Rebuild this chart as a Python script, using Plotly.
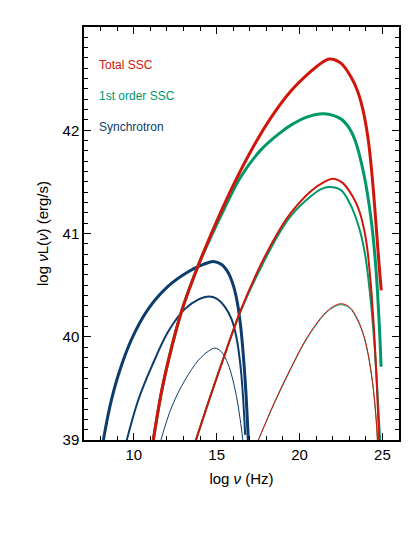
import plotly.graph_objects as go

red = 'rgb(208, 22, 10)'
green = 'rgb(0, 152, 104)'
blue = 'rgb(12, 60, 108)'

# synchrotron, three cases (thick, medium, thin)
sync_x1 = [8.17, 8.57, 9.07, 9.88, 10.88, 12.08, 13.29, 14.2, 14.8, 15.3, 15.7, 16.0, 16.25, 16.45, 16.62, 16.77, 16.91]
sync_y1 = [39.0, 39.33, 39.63, 39.98, 40.27, 40.49, 40.63, 40.70, 40.73, 40.70, 40.62, 40.50, 40.33, 40.10, 39.80, 39.45, 39.0]
sync_x2 = [9.58, 10.28, 11.08, 12.08, 13.09, 13.89, 14.55, 15.0, 15.5, 15.9, 16.2, 16.45, 16.6, 16.72]
sync_y2 = [39.0, 39.39, 39.71, 40.05, 40.27, 40.36, 40.39, 40.37, 40.29, 40.17, 39.99, 39.70, 39.40, 39.05]
sync_x3 = [11.64, 12.29, 13.09, 13.89, 14.5, 14.9, 15.25, 15.6, 15.9, 16.2, 16.42, 16.58]
sync_y3 = [39.0, 39.32, 39.58, 39.77, 39.86, 39.89, 39.86, 39.77, 39.63, 39.42, 39.2, 39.0]

# 1st order SSC
ssc1_x1 = [11.18, 11.69, 12.29, 12.89, 13.89, 14.63, 15.46, 16.46, 17.67, 18.87, 19.48, 20.48, 21.48, 22.49, 23.0, 23.4, 23.9, 24.3, 24.6, 24.8, 24.92]
ssc1_y1 = [39.0, 39.48, 39.90, 40.25, 40.69, 40.96, 41.24, 41.55, 41.81, 41.98, 42.05, 42.13, 42.16, 42.11, 42.02, 41.88, 41.56, 41.16, 40.68, 40.15, 39.71]
ssc1_x2 = [13.75, 14.49, 15.28, 16.46, 17.67, 18.77, 19.48, 20.68, 21.3, 21.8, 22.5, 23.1, 23.6, 23.95, 24.25, 24.5, 24.7, 24.86]
ssc1_y2 = [39.0, 39.36, 39.73, 40.25, 40.67, 41.0, 41.17, 41.36, 41.43, 41.45, 41.42, 41.27, 41.05, 40.8, 40.42, 39.97, 39.47, 39.0]
ssc1_x3 = [17.52, 18.47, 19.48, 20.48, 21.48, 22.0, 22.49, 23.0, 23.5, 23.9, 24.2, 24.45, 24.6, 24.7]
ssc1_y3 = [39.0, 39.35, 39.69, 39.99, 40.21, 40.28, 40.31, 40.28, 40.16, 39.99, 39.77, 39.49, 39.24, 39.0]

# total SSC
tot_x1 = [11.18, 11.69, 12.29, 12.89, 13.89, 14.63, 15.86, 17.07, 18.27, 19.48, 20.68, 21.3, 21.8, 22.49, 23.09, 23.5, 23.85, 24.15, 24.4, 24.6, 24.75, 24.85, 24.93]
tot_y1 = [39.0, 39.48, 39.90, 40.25, 40.69, 40.98, 41.42, 41.80, 42.12, 42.38, 42.57, 42.65, 42.69, 42.65, 42.52, 42.38, 42.18, 41.90, 41.52, 41.12, 40.80, 40.60, 40.45]
tot_x2 = [13.75, 14.49, 15.28, 16.46, 17.67, 18.77, 19.48, 20.68, 21.5, 22.0, 22.6, 23.2, 23.6, 24.0, 24.25, 24.48, 24.66, 24.8]
tot_y2 = [39.0, 39.36, 39.73, 40.26, 40.70, 41.03, 41.20, 41.41, 41.50, 41.53, 41.49, 41.36, 41.22, 40.95, 40.6, 40.1, 39.55, 39.0]
tot_x3 = [17.52, 18.47, 19.48, 20.48, 21.48, 22.0, 22.49, 23.0, 23.5, 23.9, 24.2, 24.45, 24.6, 24.7]
tot_y3 = [39.0, 39.36, 39.70, 40.0, 40.22, 40.29, 40.32, 40.29, 40.17, 40.0, 39.78, 39.5, 39.25, 39.0]

x_ticks = [10, 15, 20, 25]
y_ticks = [39, 40, 41, 42]

fig = go.Figure()

def add_curve(x, y, color, width):
    fig.add_trace(go.Scatter(x=x, y=y, mode='lines',
                             line=dict(color=color, width=width, shape='spline', smoothing=1.0),
                             showlegend=False, hoverinfo='skip'))

add_curve(sync_x1, sync_y1, blue, 3)
add_curve(sync_x2, sync_y2, blue, 2)
add_curve(sync_x3, sync_y3, blue, 1)
add_curve(ssc1_x1, ssc1_y1, green, 3)
add_curve(ssc1_x2, ssc1_y2, green, 2)
add_curve(ssc1_x3, ssc1_y3, green, 1)
add_curve(tot_x1, tot_y1, red, 3)
add_curve(tot_x2, tot_y2, red, 2)
add_curve(tot_x3, tot_y3, red, 1)

labels = [('Total SSC', red, 42.635), ('1st order SSC', green, 42.333), ('Synchrotron', blue, 42.033)]
for txt, col, yy in labels:
    fig.add_annotation(x=7.78, y=yy, text=txt, showarrow=False, xanchor='left', yanchor='middle',
                       font=dict(color=col, size=12, family='Liberation Sans'))

axis_common = dict(showline=True, linecolor='black', linewidth=1.5, mirror='allticks',
                   ticks='inside', ticklen=7, tickwidth=1.2, tickcolor='black',
                   showgrid=False, zeroline=False, tickmode='array',
                   tickfont=dict(size=15, color='black', family='Liberation Sans'))

fig.update_xaxes(range=[7, 26], tickvals=x_ticks, **axis_common,
                 minor=dict(ticks='inside', ticklen=4, tickcolor='black', tickmode='linear', tick0=0, dtick=1, showgrid=False),
                 title=dict(text='log <i>ν</i> (Hz)', font=dict(size=15, color='black', family='Liberation Sans'), standoff=12))
fig.update_yaxes(range=[39, 43], tickvals=y_ticks, **axis_common,
                 minor=dict(ticks='inside', ticklen=4, tickcolor='black', tickmode='linear', tick0=0, dtick=0.1, showgrid=False),
                 title=dict(text='log <i>ν</i>L(<i>ν</i>) (erg/s)', font=dict(size=15, color='black', family='Liberation Sans'), standoff=10))

# the page adds an 8px body margin, so margins are shifted to keep the frame in place
fig.update_layout(width=420, height=550, margin=dict(l=76, r=29, t=19, b=118),
                  plot_bgcolor='white', paper_bgcolor='white')

fig.write_html("out.html")
